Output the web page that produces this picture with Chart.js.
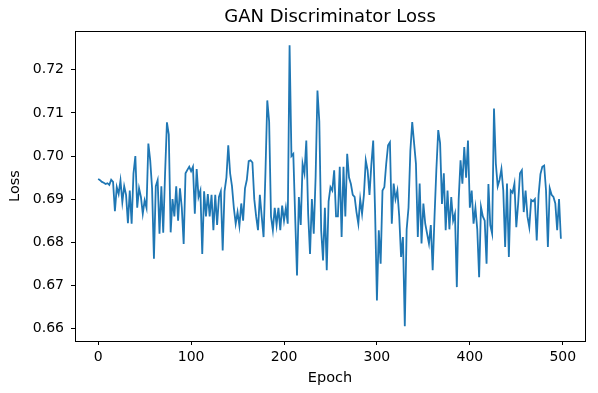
<!DOCTYPE html>
<html>
<head>
<meta charset="utf-8">
<script src="https://cdn.jsdelivr.net/npm/chart.js@4/dist/chart.umd.min.js"></script>
<style>
  html, body { margin: 0; padding: 0; background: #fff; }
  #wrap { width: 598px; height: 393px; }
</style>
</head>
<body>
<div id="wrap"><canvas id="lossChart" width="598" height="393"></canvas></div>
<script>
const EPOCH_STEP = 2;
const lossValues = [
  0.6947, 0.6944, 0.6940, 0.6938, 0.6935, 0.6937, 0.6933, 0.6945, 0.6940, 0.6872,
  0.6928, 0.6912, 0.6943, 0.6893, 0.6930, 0.6910, 0.6844, 0.6920, 0.6843, 0.6960,
  0.7000, 0.6880, 0.6925, 0.6905, 0.6866, 0.6897, 0.6880, 0.7029, 0.6990, 0.6925,
  0.6762, 0.6930, 0.6944, 0.6820, 0.6930, 0.6822, 0.6960, 0.7078, 0.7050, 0.6823,
  0.6900, 0.6860, 0.6930, 0.6850, 0.6925, 0.6880, 0.6796, 0.6960, 0.6968, 0.6975,
  0.6965, 0.6975, 0.6866, 0.6970, 0.6905, 0.6920, 0.6773, 0.6918, 0.6860, 0.6912,
  0.6860, 0.6910, 0.6828, 0.6910, 0.6840, 0.6905, 0.6918, 0.6781, 0.6918, 0.6950,
  0.7025, 0.6960, 0.6930, 0.6880, 0.6843, 0.6870, 0.6838, 0.6890, 0.6850, 0.6925,
  0.6945, 0.6988, 0.6990, 0.6985, 0.6900, 0.6860, 0.6828, 0.6910, 0.6860, 0.6812,
  0.6960, 0.7129, 0.7080, 0.6860, 0.6828, 0.6880, 0.6840, 0.6880, 0.6828, 0.6885,
  0.6850, 0.6880, 0.6843, 0.7257, 0.7000, 0.7005, 0.6860, 0.6723, 0.6905, 0.6840,
  0.6982, 0.6960, 0.7036, 0.6866, 0.6773, 0.6900, 0.6820, 0.6950, 0.7152, 0.7080,
  0.6828, 0.6758, 0.6880, 0.6735, 0.6895, 0.6928, 0.6920, 0.6967, 0.6860, 0.6860,
  0.6975, 0.6812, 0.6975, 0.6860, 0.7005, 0.6950, 0.6935, 0.6910, 0.6905, 0.6870,
  0.6843, 0.6900, 0.6866, 0.6910, 0.6990, 0.6967, 0.6910, 0.6980, 0.7036, 0.6874,
  0.6665, 0.6828, 0.6750, 0.6920, 0.6928, 0.6982, 0.7025, 0.7032, 0.6843, 0.6936,
  0.6900, 0.6920, 0.6860, 0.6766, 0.6812, 0.6605, 0.6830, 0.6880, 0.7013, 0.7079,
  0.7030, 0.6982, 0.6812, 0.6936, 0.6797, 0.6890, 0.6843, 0.6820, 0.6797, 0.6840,
  0.6735, 0.6860, 0.6970, 0.7060, 0.7030, 0.6889, 0.6960, 0.6828, 0.6920, 0.6830,
  0.6905, 0.6850, 0.6866, 0.6696, 0.6900, 0.6990, 0.6936, 0.7021, 0.6950, 0.7036,
  0.6880, 0.6920, 0.6843, 0.6880, 0.6830, 0.6719, 0.6882, 0.6860, 0.6850, 0.6750,
  0.6935, 0.6840, 0.6820, 0.7110, 0.6982, 0.6930, 0.6945, 0.6970, 0.6920, 0.6789,
  0.6936, 0.6766, 0.6920, 0.6915, 0.6936, 0.6835, 0.6890, 0.6960, 0.6967, 0.6870,
  0.6920, 0.6860, 0.6835, 0.6898, 0.6895, 0.6900, 0.6804, 0.6910, 0.6958, 0.6975,
  0.6978, 0.6920, 0.6789, 0.6925, 0.6910, 0.6905, 0.6890, 0.6828, 0.6900, 0.6808
];
const xTicks = [0, 100, 200, 300, 400, 500];
const yTicks = [0.66, 0.67, 0.68, 0.69, 0.70, 0.71, 0.72];

const FONT = "'DejaVu Sans', sans-serif";

const points = lossValues.map((v, i) => ({ x: i * EPOCH_STEP, y: v }));

// matplotlib style: full box around the axes
const boxPlugin = {
  id: 'box',
  afterDraw(chart) {
    const { ctx, chartArea: a } = chart;
    ctx.save();
    ctx.strokeStyle = '#000';
    ctx.lineWidth = 1;
    ctx.strokeRect(Math.round(a.left) + 0.5, Math.round(a.top) + 0.5,
      Math.round(a.right - a.left), Math.round(a.bottom - a.top));
    ctx.restore();
  }
};

new Chart(document.getElementById('lossChart').getContext('2d'), {
  type: 'line',
  data: {
    datasets: [{
      data: points,
      borderColor: '#1f77b4',
      borderWidth: 1.8,
      pointRadius: 0,
      tension: 0,
      fill: false
    }]
  },
  options: {
    responsive: false,
    animation: false,
    devicePixelRatio: 1,
    layout: { padding: { left: 0, right: 13, top: 0, bottom: 0 } },
    plugins: {
      legend: { display: false },
      tooltip: { enabled: false },
      title: {
        display: true,
        text: 'GAN Discriminator Loss',
        fullSize: false,
        color: '#000',
        font: { family: FONT, size: 18, weight: 'normal' },
        padding: { top: 6.4, bottom: 3 }
      }
    },
    scales: {
      x: {
        type: 'linear',
        min: -24.95,
        max: 523.95,
        afterBuildTicks: s => { s.ticks = xTicks.map(v => ({ value: v })); },
        afterFit: s => { s.height = 52; },
        ticks: {
          color: '#000',
          font: { family: FONT, size: 14 },
          padding: 4,
          maxRotation: 0,
          callback: v => String(v)
        },
        grid: { drawOnChartArea: false, drawTicks: true, tickLength: 4, tickColor: '#000', tickWidth: 1 },
        border: { display: false },
        title: {
          display: true,
          text: 'Epoch',
          color: '#000',
          font: { family: FONT, size: 14.5 },
          padding: { top: 0, bottom: 6.3 }
        }
      },
      y: {
        type: 'linear',
        min: 0.6571,
        max: 0.7290,
        afterBuildTicks: s => { s.ticks = yTicks.map(v => ({ value: v })); },
        afterFit: s => { s.width = 75; },
        ticks: {
          color: '#000',
          font: { family: FONT, size: 14 },
          padding: 7,
          callback: v => v.toFixed(2)
        },
        grid: { drawOnChartArea: false, drawTicks: true, tickLength: 4, tickColor: '#000', tickWidth: 1 },
        border: { display: false },
        title: {
          display: true,
          text: 'Loss',
          color: '#000',
          font: { family: FONT, size: 14.5 },
          padding: { top: 6.3, bottom: 0 }
        }
      }
    }
  },
  plugins: [boxPlugin]
});
</script>
</body>
</html>
